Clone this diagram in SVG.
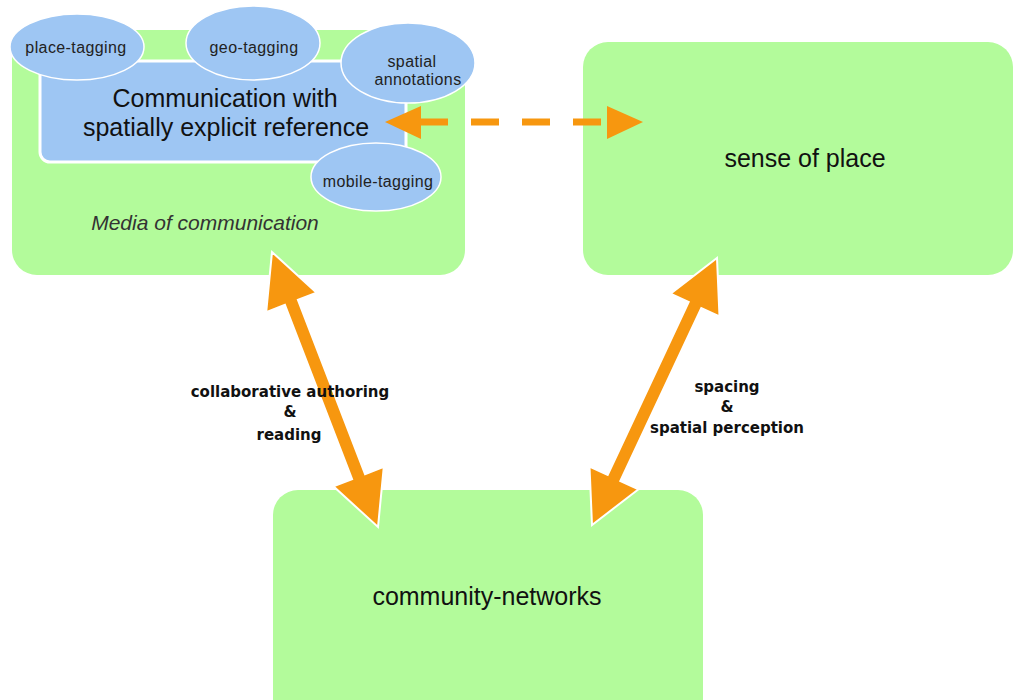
<svg xmlns="http://www.w3.org/2000/svg" width="1015" height="700" viewBox="0 0 1015 700">
  <style>
    .box { fill: #b3fb9b; }
    .blue { fill: #9ec6f3; stroke: #ffffff; stroke-width: 3; }
    .ell { fill: #9ec6f3; stroke: #ffffff; stroke-width: 1.5; }
    .main { font-family: "Liberation Sans", Arial, sans-serif; font-size: 25px; fill: #111111; text-anchor: middle; }
    .tag { font-family: "Liberation Sans", Arial, sans-serif; font-size: 16px; fill: #222222; text-anchor: middle; letter-spacing: 0.4px; }
    .media { font-family: "Liberation Sans", Arial, sans-serif; font-size: 21px; font-style: italic; fill: #333333; text-anchor: middle; }
    .lbl { font-family: "DejaVu Sans", Verdana, sans-serif; font-size: 15px; font-weight: bold; fill: #111111; text-anchor: middle; }
    .arrow { fill: #f7970f; stroke: #ffffff; stroke-width: 2; stroke-linejoin: miter; }
    .dhead { fill: #f7970f; }
    .dash { stroke: #f7970f; stroke-width: 7; stroke-dasharray: 28 23; fill: none; }
  </style>
  <rect width="1015" height="700" fill="#ffffff"/>

  <g id="media">
    <rect class="box" x="12" y="30" width="453" height="245" rx="25" ry="25"/>
    <text class="media" x="205" y="230">Media of communication</text>
  </g>

  <g id="communication">
    <rect class="blue" x="40" y="61" width="366" height="101" rx="10" ry="10"/>
    <text class="main" x="225" y="107">Communication with</text>
    <text class="main" x="226" y="136">spatially explicit reference</text>
  </g>

  <g id="place-tagging">
    <ellipse class="ell" cx="77" cy="47" rx="67" ry="33"/>
    <text class="tag" x="76" y="53">place-tagging</text>
  </g>
  <g id="geo-tagging">
    <ellipse class="ell" cx="253" cy="43" rx="67" ry="37"/>
    <text class="tag" x="254" y="53">geo-tagging</text>
  </g>
  <g id="spatial-annotations">
    <ellipse class="ell" cx="408" cy="63" rx="67" ry="40"/>
    <text class="tag" x="412" y="67">spatial</text>
    <text class="tag" x="418" y="85">annotations</text>
  </g>
  <g id="mobile-tagging">
    <ellipse class="ell" cx="376" cy="177" rx="65" ry="34"/>
    <text class="tag" x="378" y="187">mobile-tagging</text>
  </g>

  <g id="sense-of-place">
    <rect class="box" x="583" y="42" width="430" height="233" rx="25" ry="25"/>
    <text class="main" x="805" y="167">sense of place</text>
  </g>

  <g id="community-networks">
    <rect class="box" x="273" y="490" width="430" height="240" rx="25" ry="25"/>
    <text class="main" x="487" y="605">community-networks</text>
  </g>

  <g id="connectors">
    <line class="dash" x1="420" y1="122" x2="601" y2="122"/>
    <polygon class="dhead" points="385,122 421,106 421,139"/>
    <polygon class="dhead" points="643,122 607,106 607,139"/>
    <polygon class="arrow" points="272,252 266.2,312.1 284.9,304.9 352.1,479.1 333.4,486.3 378,527 383.8,466.9 365.1,474.1 297.9,299.9 316.6,292.7"/>
    <polygon class="arrow" points="717,258 719.5,316.5 701.3,308.1 620.3,480.9 638.5,489.3 592,525 589.5,466.5 607.7,474.9 688.7,302.1 670.5,293.7"/>
    <text class="lbl" x="290" y="397">collaborative authoring</text>
    <text class="lbl" x="290" y="417">&amp;</text>
    <text class="lbl" x="289" y="440">reading</text>
    <text class="lbl" x="727" y="392">spacing</text>
    <text class="lbl" x="727" y="412">&amp;</text>
    <text class="lbl" x="727" y="433">spatial perception</text>
  </g>
</svg>
